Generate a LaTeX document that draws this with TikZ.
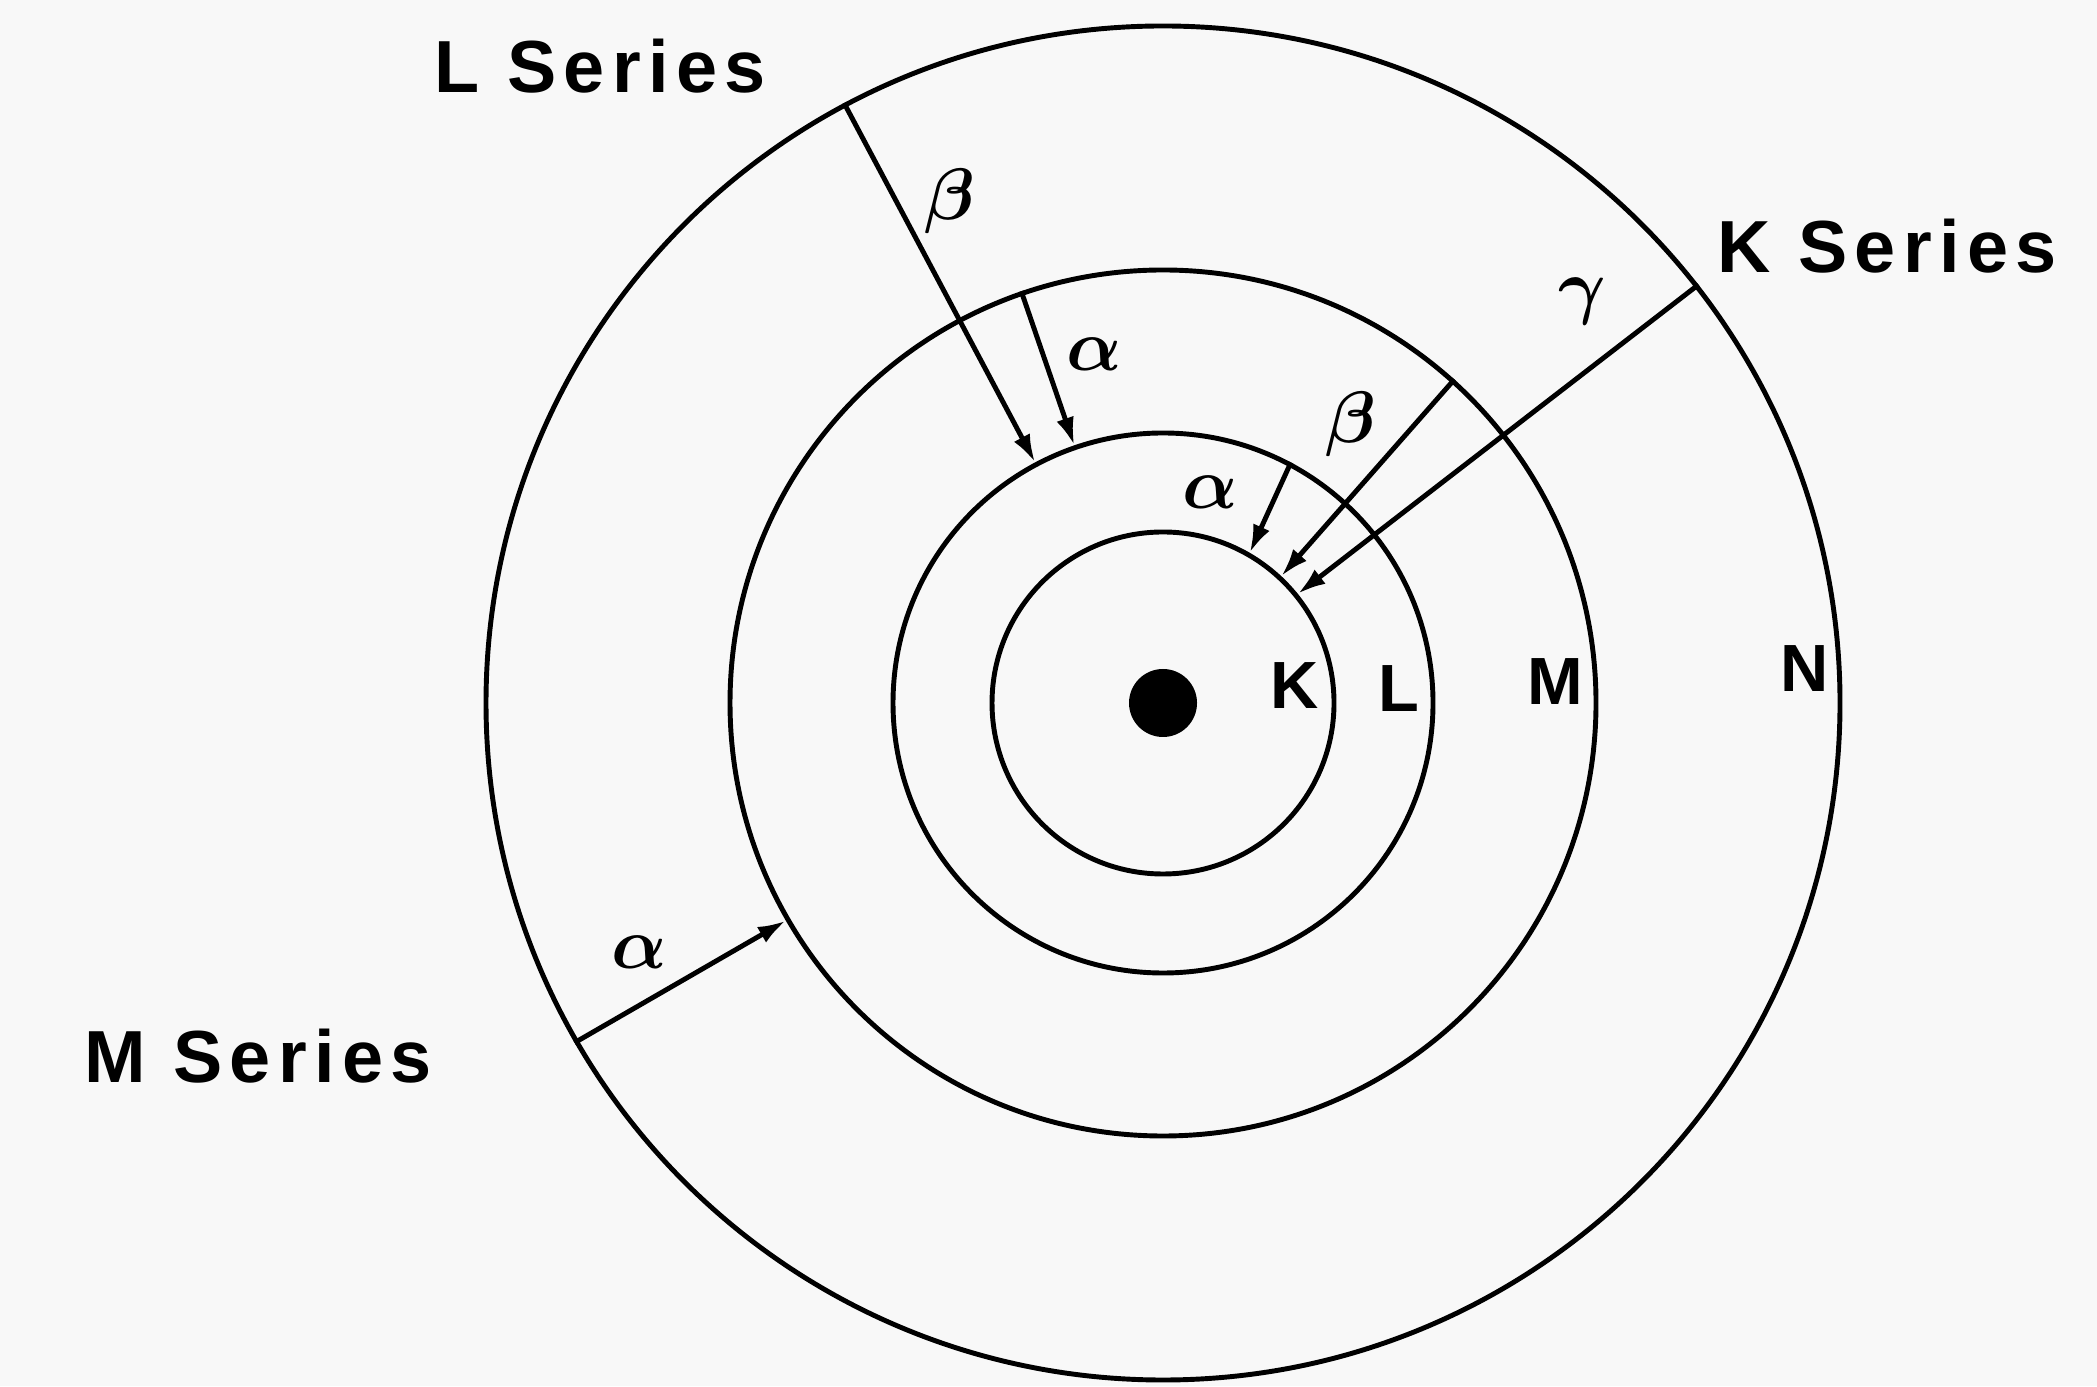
\documentclass[tikz,border=0pt]{standalone}
\usepackage{fontspec}
\setmainfont{Liberation Sans}
\newfontfamily\seriesfont[LetterSpace=10]{Liberation Sans Bold}
\usepackage{xcolor}
\usepackage{tikz}
\usetikzlibrary{arrows.meta, positioning}
\definecolor{paper}{RGB}{248,248,248}

\begin{document}
\begin{tikzpicture}[
        >={Latex[length=2.8mm,width=1.8mm]},
        line width=1.4pt,
        shell/.style={
            circle,
            draw,
            inner sep=0pt
        },
        series/.style={font=\seriesfont\fontsize{21}{24}\selectfont},
        shellname/.style={font=\bfseries\fontsize{19}{22}\selectfont},
        line label/.style={font=\boldmath\fontsize{22}{26}\selectfont}
    ]

    \fill[paper] (0,0) rectangle (20.97,13.86);
    \useasboundingbox (0,0) rectangle (20.97,13.86);

    % Nodes
    \coordinate (centre) at (11.63,6.83);
    \node[circle, fill, inner sep=0pt, minimum size=0.68cm] (nucleus) at (centre) {};
    \node[shell, minimum size=3.42cm] (k shell) at (centre) {};
    \node[shell, minimum size=5.40cm] (l shell) at (centre) {};
    \node[shell, minimum size=8.66cm] (m shell) at (centre) {};
    \node[shell, minimum size=13.54cm] (n shell) at (centre) {};

    \node[shellname] (k) at (12.95,7.00) {K};
    \node[shellname] (l) at (13.99,6.97) {L};
    \node[shellname] (m) at (15.55,7.04) {M};
    \node[shellname] (n) at (18.05,7.17) {N};

    \node[series] (l series) at (6.00,13.20) {L Series};
    \node[series] (k series) at (18.87,11.40) {K Series};
    \node[series] (m series) at (2.58,3.30) {M Series};

    % Arrows
    \draw[->] (n shell.118) -- (l shell.118);
    \draw[->] (m shell.109) -- (l shell.109);
    \draw[->] (l shell.62) -- (k shell.60);
    \draw[->] (m shell.48) -- (k shell.47);
    \draw[->] (n shell.38) -- (k shell.39);
    \draw[->] (n shell.210) -- (m shell.210);

    % Line labels
    \node[line label] (l beta) at (9.50,11.85) {$\beta$};
    \node[line label] (l alpha) at (10.94,10.32) {$\alpha$};
    \node[line label] (k alpha) at (12.10,8.94) {$\alpha$};
    \node[line label] (k beta) at (13.51,9.62) {$\beta$};
    \node[line label] (k gamma) at (15.82,10.85) {$\gamma$};
    \node[line label] (m alpha) at (6.39,4.34) {$\alpha$};

\end{tikzpicture}
\end{document}
